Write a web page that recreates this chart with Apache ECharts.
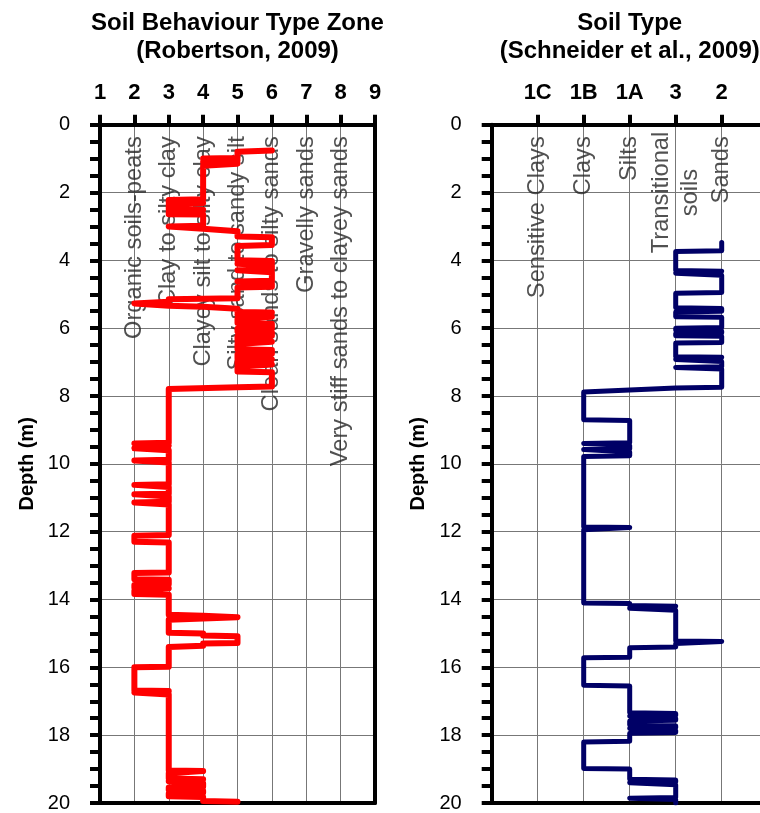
<!DOCTYPE html>
<html>
<head>
<meta charset="utf-8">
<title>CPT soil classification profiles</title>
<script src="https://cdn.jsdelivr.net/npm/echarts@6/dist/echarts.min.js"></script>
<style>
  html, body { margin: 0; padding: 0; background: #fff; }
  #chart { width: 760px; height: 813px; }
</style>
</head>
<body>
<div id="chart"></div>
<script>
// ---- Robertson (2009) soil behaviour type zone profile ----
const sbtZoneTicks = [1, 2, 3, 4, 5, 6, 7, 8, 9];
const sbtNameZones = [2, 3, 4, 5, 6, 7, 8];
const sbtNames = [
  'Organic soils-peats',
  'Clay to silty clay',
  'Clayey silt to silty clay',
  'Silty sand to sandy silt',
  'Clean sands to silty sands',
  'Gravelly sands',
  'Very stiff sands to clayey sands'
];
const sbtDepth = [
  0.76, 0.80, 0.98, 1.00, 1.04, 1.05, 1.09, 1.10, 1.14, 1.15, 1.19, 1.21,
  2.20, 2.22, 2.30, 2.31, 2.34, 2.36, 2.50, 2.51, 2.55, 2.57, 2.64, 2.65,
  2.98, 3.00, 3.05, 3.07, 3.12, 3.14, 3.30, 3.32, 3.55, 3.58,
  4.00, 4.02, 4.08, 4.10, 4.13, 4.15, 4.27, 4.29, 4.33, 4.35, 4.60, 4.62, 4.67, 4.69, 4.78, 4.80,
  5.12, 5.15, 5.22, 5.27, 5.31, 5.34, 5.37, 5.40, 5.43,
  5.52, 5.54, 5.58, 5.60, 5.64, 5.66, 5.70, 5.72, 5.85, 5.87, 6.00, 6.02, 6.10, 6.12, 6.22, 6.24,
  6.38, 6.40, 6.45, 6.47, 6.62, 6.64, 6.75, 6.77, 6.90, 6.92, 6.97, 6.99, 7.05, 7.07, 7.12, 7.14,
  7.28, 7.30, 7.72, 7.74, 7.79,
  9.38, 9.40, 9.45, 9.47, 9.52, 9.54, 9.58, 9.60, 9.88, 9.90, 9.94, 9.96,
  10.60, 10.62, 10.66, 10.68, 10.88, 10.90, 10.94, 10.96, 11.12, 11.14, 11.18, 11.20,
  12.10, 12.12, 12.30, 12.32,
  13.20, 13.22, 13.40, 13.42, 13.55, 13.57, 13.65, 13.67, 13.72, 13.74, 13.84, 13.86,
  14.45, 14.48, 14.52, 14.56, 14.60,
  14.98, 15.00, 15.06, 15.08, 15.28, 15.30, 15.36, 15.40,
  15.98, 16.00, 16.68, 16.70, 16.72, 16.74, 16.78, 16.80,
  19.04, 19.06, 19.10, 19.12, 19.28, 19.30, 19.34, 19.36, 19.40, 19.42, 19.52, 19.54,
  19.62, 19.64, 19.70, 19.72, 19.80, 19.82, 19.94, 19.96
];
const sbtZone = [
  6, 5, 5, 4, 4, 5, 5, 4, 4, 5, 5, 4,
  4, 3, 3, 4, 4, 3, 3, 4, 4, 3, 3, 4,
  4, 3, 3, 4, 4, 5, 5, 6, 6, 5,
  5, 6, 6, 5, 5, 6, 6, 5, 5, 6, 6, 5, 5, 6, 6, 5,
  5, 3, 3, 2, 2, 3, 4, 4, 5,
  5, 6, 6, 5, 5, 6, 6, 5, 5, 6, 6, 5, 5, 6, 6, 5,
  5, 6, 6, 5, 5, 6, 6, 5, 5, 6, 6, 5, 5, 6, 6, 5,
  5, 6, 6, 5, 3,
  3, 2, 2, 3, 3, 2, 2, 3, 3, 2, 2, 3,
  3, 2, 2, 3, 3, 2, 2, 3, 3, 2, 2, 3,
  3, 2, 2, 3,
  3, 2, 2, 3, 3, 2, 2, 3, 3, 2, 2, 3,
  3, 4, 5, 4, 3,
  3, 4, 4, 5, 5, 4, 4, 3,
  3, 2, 2, 3, 3, 2, 2, 3,
  3, 4, 4, 3, 3, 4, 4, 3, 3, 4, 4, 3,
  3, 4, 4, 3, 3, 4, 4, 5
];

// ---- Schneider et al. (2009) soil type profile ----
const soilTypeCodes = ['1C', '1B', '1A', '3', '2'];
const soilTypeNames = ['Sensitive Clays', 'Clays', 'Silts', 'Transitional\nsoils', 'Sands'];
const soilTypeDepth = [
  3.47, 3.72, 3.74, 4.30, 4.32, 4.36, 4.38, 4.42, 4.44, 4.95, 4.97, 5.40, 5.42, 5.50, 5.52,
  5.66, 5.68, 5.98, 6.00, 6.06, 6.08, 6.14, 6.16, 6.22, 6.24, 6.42, 6.44, 6.84, 6.86, 6.90,
  6.92, 6.96, 6.98, 7.14, 7.16, 7.18, 7.20, 7.74, 7.76, 7.88,
  8.70, 8.72, 9.38, 9.40, 9.44, 9.46, 9.56, 9.58, 9.63, 9.65, 9.76, 9.78,
  11.86, 11.88, 11.92, 11.94,
  14.10, 14.12, 14.18, 14.20, 14.24, 14.26, 14.30, 14.32, 15.22, 15.24, 15.28, 15.30,
  15.40, 15.42, 15.70, 15.72, 16.53, 16.55,
  17.34, 17.36, 17.42, 17.44, 17.48, 17.50, 17.56, 17.58, 17.70, 17.72, 17.78, 17.80,
  17.84, 17.86, 17.92, 17.94, 18.18, 18.20, 18.98, 19.00,
  19.30, 19.32, 19.38, 19.40, 19.44, 19.46, 19.84, 19.86, 19.88, 19.90, 20.00
];
// position on the soil type axis: 1 = 1C, 2 = 1B, 3 = 1A, 4 = 3, 5 = 2
const soilTypePos = [
  5, 5, 4, 4, 5, 5, 4, 4, 5, 5, 4, 4, 5, 5, 4,
  4, 5, 5, 4, 4, 5, 5, 4, 4, 5, 5, 4, 4, 5, 5,
  4, 4, 5, 5, 4, 4, 5, 5, 4, 2,
  2, 3, 3, 2, 2, 3, 3, 2, 2, 3, 3, 2,
  2, 3, 3, 2,
  2, 3, 3, 4, 4, 3, 3, 4, 4, 5, 5, 4,
  4, 3, 3, 2, 2, 3,
  3, 4, 4, 3, 3, 4, 4, 3, 3, 4, 4, 3,
  3, 4, 4, 3, 3, 2, 2, 3,
  3, 4, 4, 3, 3, 4, 4, 3, 3, 4, 4
];

const depthTicks = { min: 0, max: 20, step: 2 };

// ---- layout ----
const FONT = '"Liberation Sans", Arial, Helvetica, sans-serif';
const CANVAS_W = 760;
const plotTop = 124.7, plotBottom = 808;
const leftPlot = { x0: 100, x1: 375 };
// the soil type panel runs past the right edge of the page: one class = 46 px
const rightPlot = { x0: 491.7, unit: 46 };
const rightAxisMax = (CANVAS_W - rightPlot.x0) / rightPlot.unit;
const rightTitleCenter = rightPlot.x0 + rightPlot.unit * (soilTypeCodes.length + 1) / 2;
const LABEL_DEPTH = 0.34;       // top end of the rotated zone captions
const MULTILINE_LABEL_DEPTH = 2.0;
const GRID_COLOR = '#777777';

const chart = echarts.init(document.getElementById('chart'), null, { renderer: 'canvas' });

function depthAxis(gridIndex) {
  return {
    gridIndex: gridIndex,
    type: 'value',
    position: 'left',
    inverse: true,
    min: depthTicks.min,
    max: depthTicks.max,
    interval: depthTicks.step,
    name: 'Depth (m)',
    nameLocation: 'middle',
    nameRotate: 90,
    nameGap: 63,
    nameTextStyle: { fontFamily: FONT, fontSize: 20, fontWeight: 'bold', color: '#000' },
    axisLine: { show: true, onZero: false, lineStyle: { color: '#000', width: 4 } },
    axisTick: { show: true, inside: false, length: 10, lineStyle: { color: '#000', width: 4 } },
    minorTick: { show: true, splitNumber: 4, length: 10, lineStyle: { color: '#000', width: 4 } },
    axisLabel: { fontFamily: FONT, fontSize: 20, color: '#000', margin: 30 },
    splitLine: { show: true, lineStyle: { color: GRID_COLOR, width: 1 } }
  };
}

function frameAxis(gridIndex, position, isX, min, max) {
  return {
    gridIndex: gridIndex,
    type: 'value',
    position: position,
    min: min,
    max: max,
    inverse: !isX,
    axisLine: { show: true, onZero: false, lineStyle: { color: '#000', width: 4 } },
    axisTick: { show: false },
    axisLabel: { show: false },
    splitLine: { show: false }
  };
}

const topLabelStyle = { fontFamily: FONT, fontSize: 22, fontWeight: 'bold', color: '#000', margin: 21 };
const titleStyle = { fontFamily: FONT, fontSize: 24, fontWeight: 'bold', color: '#000', lineHeight: 28 };
const captionStyle = { fontFamily: FONT, fontSize: 23.7, color: '#262626' };
const soilTypeTickValues = soilTypeCodes.map((c, i) => i + 1);

const option = {
  animation: false,
  backgroundColor: '#ffffff',
  title: [
    {
      text: 'Soil Behaviour Type Zone\n(Robertson, 2009)',
      left: (leftPlot.x0 + leftPlot.x1) / 2,
      top: 9,
      padding: 0,
      textAlign: 'center',
      textStyle: titleStyle
    },
    {
      text: 'Soil Type\n(Schneider et al., 2009)',
      left: rightTitleCenter,
      top: 9,
      padding: 0,
      textAlign: 'center',
      textStyle: titleStyle
    }
  ],
  grid: [
    { left: leftPlot.x0, top: plotTop, width: leftPlot.x1 - leftPlot.x0, height: plotBottom - plotTop, containLabel: false },
    { left: rightPlot.x0, top: plotTop, width: CANVAS_W - rightPlot.x0, height: plotBottom - plotTop, containLabel: false }
  ],
  xAxis: [
    {
      gridIndex: 0,
      type: 'value',
      position: 'top',
      min: sbtZoneTicks[0],
      max: sbtZoneTicks[sbtZoneTicks.length - 1],
      interval: 1,
      axisLine: { show: true, onZero: false, lineStyle: { color: '#000', width: 4 } },
      axisTick: { show: true, inside: false, length: 10, lineStyle: { color: '#000', width: 4 } },
      axisLabel: topLabelStyle,
      splitLine: { show: true, lineStyle: { color: GRID_COLOR, width: 1 } }
    },
    frameAxis(0, 'bottom', true, sbtZoneTicks[0], sbtZoneTicks[sbtZoneTicks.length - 1]),
    {
      gridIndex: 1,
      type: 'value',
      position: 'top',
      min: 0,
      max: rightAxisMax,
      interval: 1,
      axisLine: { show: true, onZero: false, lineStyle: { color: '#000', width: 4 } },
      axisTick: {
        show: true, inside: false, length: 10,
        customValues: soilTypeTickValues,
        lineStyle: { color: '#000', width: 4 }
      },
      axisLabel: Object.assign({}, topLabelStyle, {
        customValues: soilTypeTickValues,
        formatter: v => (Math.abs(v - Math.round(v)) < 1e-6 && soilTypeCodes[Math.round(v) - 1]) || ''
      }),
      splitLine: { show: true, lineStyle: { color: GRID_COLOR, width: 1 } }
    },
    frameAxis(1, 'bottom', true, 0, rightAxisMax)
  ],
  yAxis: [
    depthAxis(0),
    frameAxis(0, 'right', false, depthTicks.min, depthTicks.max),
    depthAxis(1)
  ],
  series: [
    {
      name: 'Zone captions',
      type: 'scatter',
      xAxisIndex: 0,
      yAxisIndex: 0,
      silent: true,
      symbolSize: 1,
      itemStyle: { color: 'rgba(0,0,0,0)' },
      z: 1,
      data: sbtNameZones.map((z, i) => ({ name: sbtNames[i], value: [z, LABEL_DEPTH] })),
      label: Object.assign({
        show: true, position: 'inside', rotate: 90, align: 'right', verticalAlign: 'middle', formatter: '{b}'
      }, captionStyle)
    },
    {
      name: 'Soil type captions',
      type: 'scatter',
      xAxisIndex: 2,
      yAxisIndex: 2,
      silent: true,
      symbolSize: 1,
      itemStyle: { color: 'rgba(0,0,0,0)' },
      z: 1,
      data: soilTypeNames.map((n, i) => {
        const multi = n.indexOf('\n') >= 0;
        return {
          name: n,
          value: [i + 1, multi ? MULTILINE_LABEL_DEPTH : LABEL_DEPTH],
          label: multi ? { align: 'center', lineHeight: 29 } : {}
        };
      }),
      label: Object.assign({
        show: true, position: 'inside', rotate: 90, align: 'right', verticalAlign: 'middle', formatter: '{b}'
      }, captionStyle)
    },
    {
      name: 'SBT zone',
      type: 'line',
      xAxisIndex: 0,
      yAxisIndex: 0,
      showSymbol: false,
      silent: true,
      z: 3,
      data: sbtDepth.map((d, i) => [sbtZone[i], d]),
      lineStyle: { color: '#ff0000', width: 6, cap: 'round', join: 'round' }
    },
    {
      name: 'Soil type',
      type: 'line',
      xAxisIndex: 2,
      yAxisIndex: 2,
      showSymbol: false,
      silent: true,
      z: 3,
      data: soilTypeDepth.map((d, i) => [soilTypePos[i], d]),
      lineStyle: { color: '#000066', width: 5, cap: 'round', join: 'round' }
    }
  ]
};

chart.setOption(option);
</script>
</body>
</html>
